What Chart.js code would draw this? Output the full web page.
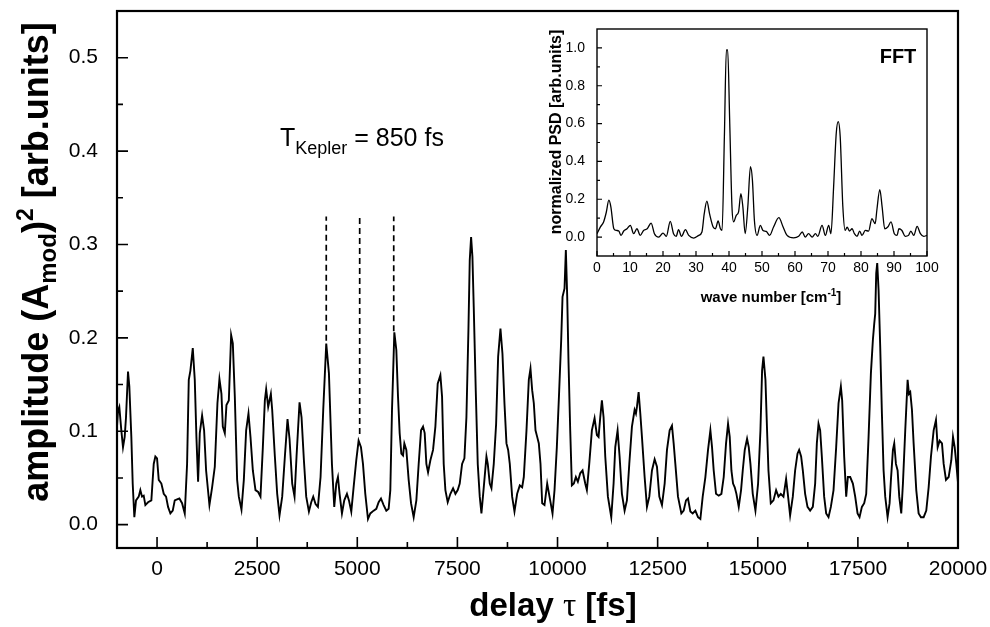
<!DOCTYPE html>
<html><head><meta charset="utf-8">
<script src="https://cdn.jsdelivr.net/npm/chart.js@4.4.1/dist/chart.umd.min.js"></script>
<style>
html,body{margin:0;padding:0;background:#fff;}
#wrap{position:relative;width:990px;height:627px;overflow:hidden;}
#main{position:absolute;left:0;top:0;}
#inset{position:absolute;left:530px;top:20px;}
</style></head><body>
<div id="wrap"><canvas id="main" width="990" height="627"></canvas><canvas id="inset" width="430" height="290"></canvas></div>
<script>
// ---- main trace: delay (fs) and squared amplitude (arb. units) ----
const delayFs = [
-1000,-975,-942,-892,-850,-808,-775,-725,-692,-642,
-608,-567,-525,-458,-417,-375,-333,-292,-225,-142,
-83,-42,0,42,108,167,225,275,333,392,
442,500,558,625,692,750,792,833,892,942,
983,1025,1067,1125,1175,1225,1308,1375,1442,1508,
1558,1608,1642,1692,1733,1792,1850,1892,1942,2000,
2042,2108,2167,2225,2283,2333,2392,2458,2525,2583,
2642,2692,2725,2775,2808,2842,2875,2942,3000,3058,
3125,3192,3258,3308,3375,3433,3483,3558,3608,3667,
3725,3792,3850,3900,3958,4017,4083,4150,4225,4292,
4367,4425,4475,4517,4558,4617,4675,4742,4792,4850,
4908,4975,5033,5092,5142,5200,5267,5325,5408,5475,
5533,5592,5658,5725,5783,5825,5867,5892,5925,5975,
6017,6058,6100,6142,6175,6225,6283,6342,6408,6475,
6533,6592,6642,6683,6725,6767,6825,6892,6950,7008,
7075,7117,7158,7200,7258,7325,7392,7450,7508,7558,
7617,7675,7725,7775,7808,7842,7875,7908,7958,8008,
8058,8100,8158,8225,8258,8308,8350,8408,8467,8517,
8575,8625,8675,8725,8767,8808,8867,8925,8992,9058,
9117,9158,9225,9283,9325,9367,9408,9450,9492,9533,
9575,9617,9675,9742,9817,9875,9925,9983,10042,10092,
10125,10175,10208,10242,10275,10317,10358,10408,10458,10508,
10567,10625,10692,10733,10792,10858,10925,10983,11025,11067,
11108,11150,11192,11258,11342,11400,11442,11500,11550,11608,
11675,11733,11792,11858,11925,11958,11983,12025,12067,12108,
12175,12233,12292,12358,12425,12483,12542,12608,12675,12733,
12800,12858,12900,12942,13008,13092,13150,13208,13258,13317,
13375,13442,13508,13567,13625,13692,13758,13817,13858,13900,
13958,14025,14092,14150,14208,14258,14300,14342,14383,14425,
14467,14525,14583,14625,14675,14733,14775,14817,14875,14942,
15008,15067,15108,15142,15192,15233,15267,15325,15392,15458,
15517,15575,15642,15708,15750,15808,15875,15933,15992,16033,
16083,16125,16183,16242,16308,16375,16433,16475,16517,16558,
16600,16658,16708,16767,16825,16892,16958,17017,17075,17108,
17158,17208,17250,17308,17375,17433,17492,17542,17600,17658,
17708,17767,17825,17875,17908,17933,17958,17983,18017,18058,
18100,18142,18183,18242,18292,18325,18375,18408,18450,18492,
18533,18583,18625,18683,18742,18775,18808,18850,18892,18958,
19017,19075,19142,19208,19267,19325,19392,19450,19492,19542,
19600,19642,19700,19767,19833,19875,19917,19958,20000];
const amplitude = [
0.105,0.122,0.126,0.101,0.083,0.094,0.115,0.164,0.148,0.094,
0.044,0.008,0.026,0.030,0.037,0.030,0.031,0.021,0.024,0.026,
0.065,0.073,0.071,0.048,0.044,0.033,0.030,0.019,0.012,0.015,
0.026,0.027,0.028,0.023,0.012,0.065,0.155,0.165,0.189,0.155,
0.094,0.046,0.098,0.117,0.101,0.058,0.021,0.040,0.062,0.130,
0.156,0.140,0.105,0.098,0.128,0.133,0.203,0.194,0.137,0.048,
0.030,0.016,0.048,0.101,0.119,0.094,0.058,0.037,0.035,0.030,
0.083,0.133,0.145,0.126,0.133,0.140,0.123,0.073,0.033,0.010,
0.030,0.073,0.113,0.092,0.044,0.030,0.073,0.131,0.115,0.069,
0.030,0.014,0.024,0.030,0.022,0.019,0.051,0.123,0.194,0.162,
0.065,0.019,0.044,0.051,0.033,0.012,0.026,0.033,0.026,0.014,
0.040,0.069,0.090,0.083,0.065,0.033,0.006,0.012,0.015,0.017,
0.024,0.028,0.021,0.015,0.017,0.037,0.123,0.158,0.206,0.187,
0.137,0.098,0.076,0.074,0.087,0.080,0.048,0.023,0.008,0.026,
0.065,0.101,0.105,0.098,0.065,0.056,0.069,0.080,0.105,0.151,
0.160,0.137,0.065,0.037,0.024,0.033,0.039,0.033,0.037,0.044,
0.065,0.071,0.115,0.208,0.283,0.308,0.287,0.233,0.144,0.065,
0.030,0.012,0.040,0.073,0.065,0.044,0.039,0.065,0.108,0.180,
0.210,0.183,0.130,0.087,0.080,0.065,0.030,0.014,0.033,0.042,
0.040,0.051,0.101,0.155,0.167,0.144,0.130,0.101,0.094,0.087,
0.065,0.023,0.021,0.044,0.026,0.012,0.037,0.083,0.144,0.198,
0.244,0.253,0.294,0.244,0.173,0.101,0.042,0.044,0.051,0.046,
0.055,0.058,0.044,0.037,0.065,0.101,0.114,0.096,0.094,0.115,
0.133,0.115,0.073,0.030,0.008,0.044,0.083,0.101,0.073,0.033,
0.015,0.026,0.065,0.105,0.123,0.119,0.126,0.142,0.119,0.094,
0.051,0.019,0.030,0.058,0.070,0.062,0.030,0.021,0.044,0.080,
0.101,0.106,0.087,0.065,0.030,0.012,0.015,0.026,0.028,0.014,
0.012,0.015,0.008,0.006,0.030,0.051,0.080,0.101,0.083,0.058,
0.033,0.031,0.033,0.051,0.087,0.108,0.094,0.058,0.044,0.040,
0.033,0.019,0.037,0.058,0.080,0.092,0.083,0.065,0.033,0.015,
0.044,0.101,0.165,0.180,0.155,0.100,0.058,0.023,0.026,0.037,
0.030,0.033,0.030,0.049,0.033,0.010,0.030,0.058,0.076,0.080,
0.073,0.058,0.033,0.019,0.015,0.019,0.044,0.087,0.108,0.101,
0.073,0.030,0.012,0.008,0.019,0.037,0.083,0.130,0.148,0.133,
0.073,0.030,0.051,0.051,0.044,0.030,0.012,0.008,0.019,0.023,
0.033,0.094,0.162,0.198,0.215,0.226,0.269,0.280,0.251,0.190,
0.119,0.058,0.030,0.008,0.023,0.048,0.080,0.087,0.065,0.058,
0.030,0.012,0.044,0.101,0.155,0.140,0.142,0.123,0.087,0.037,
0.012,0.008,0.008,0.015,0.040,0.073,0.101,0.112,0.083,0.090,
0.087,0.065,0.048,0.051,0.069,0.094,0.083,0.065,0.045];

// Kepler period markers (dashed lines)
const keplerMarksFs = [4225, 5060, 5910];
const keplerMarkTop = 0.33;
const keplerMarkBottom = [0.197, 0.097, 0.207];

// main axis ticks
const xTickValues = [0, 2500, 5000, 7500, 10000, 12500, 15000, 17500, 20000];
const yTickValues = [0.0, 0.1, 0.2, 0.3, 0.4, 0.5];

// ---- inset: FFT spectrum ----
const waveNumber = [
0,1.0,2.0,2.8,3.6,4.2,5.1,5.9,6.6,7.3,
8.1,9.1,10.1,11.1,12.1,13.1,14.1,15.2,16.4,17.4,
18.7,20.0,21.0,22.2,23.2,24.0,24.7,25.6,26.8,27.8,
29.3,30.8,31.8,32.5,33.3,34.1,35.2,35.9,36.7,37.4,
37.9,38.6,39.2,39.6,40.2,40.9,41.4,42.2,42.9,43.6,
44.2,44.9,45.7,46.5,47.1,47.7,48.5,49.5,50.3,51.3,
52.3,53.5,55.1,56.4,57.6,59.6,61.1,62.2,63.1,64.1,
65.2,66.2,66.9,68.2,69.2,70.2,70.9,71.7,72.5,73.1,
73.7,74.5,75.2,75.8,76.5,77.3,78.0,78.8,79.6,80.3,
81.3,82.3,83.3,84.3,84.8,85.7,86.4,87.2,88.1,89.1,
90.1,90.9,91.5,92.4,93.4,94.4,95.1,96.0,97.0,98.0,
99.0,100];
const psd = [
0.018,0.053,0.08,0.13,0.195,0.16,0.044,0.035,0.032,0.009,
0.032,0.044,0.062,0.018,0.044,0.009,0.035,0.044,0.074,0.018,
0.0,0.021,0.004,0.083,0.018,0.004,0.039,0.004,0.039,0.009,
-0.005,0.009,0.027,0.124,0.19,0.124,0.053,0.044,0.085,0.044,
0.035,0.53,0.99,0.99,0.62,0.16,0.08,0.115,0.133,0.23,
0.16,0.018,0.16,0.372,0.30,0.088,0.009,0.062,0.035,0.03,
0.009,0.053,0.103,0.053,0.009,-0.004,0.004,0.027,0.0,0.018,
0.0,0.018,0.004,0.062,0.009,0.062,0.018,0.265,0.549,0.61,
0.53,0.16,0.035,0.053,0.032,0.044,0.018,0.004,0.032,0.009,
0.035,0.032,0.097,0.071,0.142,0.251,0.16,0.044,0.053,0.08,
0.018,0.009,0.044,0.035,0.004,0.009,0.032,0.009,0.057,0.018,
0.004,0.009];
const insetXTickValues = [0,10,20,30,40,50,60,70,80,90,100];
const insetYTickValues = [0.0,0.2,0.4,0.6,0.8,1.0];

const FONT = '"Liberation Sans", Arial, Helvetica, sans-serif';

function drawRuns(ctx, runs, x, y, align) {
  let total = 0;
  runs.forEach(r => { ctx.font = r.f; r.w = ctx.measureText(r.t).width; total += r.w; });
  let cx = align === 'center' ? x - total / 2 : x;
  ctx.textAlign = 'left'; ctx.textBaseline = 'alphabetic';
  runs.forEach(r => { ctx.font = r.f; ctx.fillText(r.t, cx, y + (r.dy || 0)); cx += r.w; });
}

const mainDecor = {
  id: 'mainDecor',
  afterDatasetsDraw(chart) {
    const {ctx, chartArea: a, scales: {x, y}} = chart;
    ctx.save();
    ctx.strokeStyle = '#000'; ctx.fillStyle = '#000';
    ctx.lineWidth = 2.2;
    ctx.strokeRect(a.left, a.top, a.right - a.left, a.bottom - a.top);
    ctx.lineWidth = 1.6;
    ctx.beginPath();
    xTickValues.forEach(v => {
      const p = x.getPixelForValue(v);
      ctx.moveTo(p, a.bottom); ctx.lineTo(p, a.bottom - 11);
      const m = v + 1250;
      if (m < x.max) { const q = x.getPixelForValue(m); ctx.moveTo(q, a.bottom); ctx.lineTo(q, a.bottom - 6); }
    });
    yTickValues.forEach(v => {
      const p = y.getPixelForValue(v);
      ctx.moveTo(a.left, p); ctx.lineTo(a.left + 11, p);
      const m = v + 0.05;
      if (m < y.max) { const q = y.getPixelForValue(m); ctx.moveTo(a.left, q); ctx.lineTo(a.left + 6, q); }
    });
    ctx.stroke();

    // axis titles
    ctx.save();
    ctx.translate(37, 262);
    ctx.rotate(-Math.PI / 2);
    drawRuns(ctx, [
      {t: 'amplitude (A', f: 'bold 36px ' + FONT},
      {t: 'mod', f: 'bold 24px ' + FONT, dy: 8},
      {t: ')', f: 'bold 36px ' + FONT},
      {t: '2', f: 'bold 23px ' + FONT, dy: -15},
      {t: ' [arb.units]', f: 'bold 36px ' + FONT}
    ], 0, 11, 'center');
    ctx.restore();

    drawRuns(ctx, [
      {t: 'delay ', f: 'bold 33px ' + FONT},
      {t: 'τ', f: '33px "Liberation Serif", serif'},
      {t: ' [fs]', f: 'bold 33px ' + FONT}
    ], 553, 616, 'center');

    drawRuns(ctx, [
      {t: 'T', f: '25px ' + FONT},
      {t: 'Kepler', f: '18px ' + FONT, dy: 8},
      {t: ' = 850 fs', f: '25px ' + FONT}
    ], 280, 146, 'left');
    ctx.restore();
  }
};

new Chart(document.getElementById('main'), {
  type: 'line',
  data: {
    datasets: [
      {
        data: delayFs.map((t, i) => ({x: t, y: amplitude[i]})),
        borderColor: '#000', borderWidth: 1.9, pointRadius: 0,
        tension: 0, fill: false
      },
      ...keplerMarksFs.map((t, i) => ({
        data: [{x: t, y: keplerMarkBottom[i]}, {x: t, y: keplerMarkTop}],
        borderColor: '#000', borderWidth: 1.7, borderDash: [6, 4], pointRadius: 0, fill: false
      }))
    ]
  },
  options: {
    responsive: false, animation: false, devicePixelRatio: 1,
    layout: {padding: {top: 11, right: 32, left: 0, bottom: 0}},
    plugins: {legend: {display: false}, tooltip: {enabled: false}},
    scales: {
      x: {
        type: 'linear', min: -1000, max: 20000,
        grid: {display: false, drawTicks: false}, border: {display: false},
        afterBuildTicks: s => { s.ticks = xTickValues.map(v => ({value: v})); },
        afterFit: s => { s.height = 79; s.paddingLeft = 0; s.paddingRight = 0; s.paddingTop = 0; s.paddingBottom = 0; },
        ticks: {font: {family: FONT, size: 21}, color: '#000', padding: 9, maxRotation: 0, autoSkip: false,
                callback: v => String(v)}
      },
      y: {
        type: 'linear', min: -0.025, max: 0.55,
        grid: {display: false, drawTicks: false}, border: {display: false},
        afterBuildTicks: s => { s.ticks = yTickValues.map(v => ({value: v})); },
        afterFit: s => { s.width = 117; s.paddingLeft = 0; s.paddingRight = 0; s.paddingTop = 0; s.paddingBottom = 0; },
        ticks: {font: {family: FONT, size: 21}, color: '#000', padding: 19, autoSkip: false,
                callback: v => Number(v).toFixed(1)}
      }
    }
  },
  plugins: [mainDecor]
});

const insetDecor = {
  id: 'insetDecor',
  afterDatasetsDraw(chart) {
    const {ctx, chartArea: a, scales: {x, y}} = chart;
    ctx.save();
    ctx.strokeStyle = '#000'; ctx.fillStyle = '#000';
    ctx.lineWidth = 1.4;
    ctx.strokeRect(a.left, a.top, a.right - a.left, a.bottom - a.top);
    ctx.lineWidth = 1.2;
    ctx.beginPath();
    insetXTickValues.forEach(v => {
      const p = x.getPixelForValue(v);
      ctx.moveTo(p, a.bottom); ctx.lineTo(p, a.bottom - 5);
      const m = v + 5;
      if (m < x.max) { const q = x.getPixelForValue(m); ctx.moveTo(q, a.bottom); ctx.lineTo(q, a.bottom - 3); }
    });
    insetYTickValues.forEach(v => {
      const p = y.getPixelForValue(v);
      ctx.moveTo(a.left, p); ctx.lineTo(a.left + 5, p);
      const m = v + 0.1;
      if (m < y.max) { const q = y.getPixelForValue(m); ctx.moveTo(a.left, q); ctx.lineTo(a.left + 3, q); }
    });
    ctx.stroke();

    drawRuns(ctx, [{t: 'FFT', f: 'bold 20px ' + FONT}], 368, 43, 'center');
    drawRuns(ctx, [
      {t: 'wave number [cm', f: 'bold 15px ' + FONT},
      {t: '-1', f: 'bold 10px ' + FONT, dy: -6},
      {t: ']', f: 'bold 15px ' + FONT}
    ], 241, 282, 'center');
    ctx.save();
    ctx.translate(26, 112);
    ctx.rotate(-Math.PI / 2);
    drawRuns(ctx, [{t: 'normalized PSD [arb.units]', f: 'bold 16px ' + FONT}], 0, 5, 'center');
    ctx.restore();
    ctx.restore();
  }
};

new Chart(document.getElementById('inset'), {
  type: 'line',
  data: {
    datasets: [{
      data: waveNumber.map((w, i) => ({x: w, y: psd[i]})),
      borderColor: '#000', borderWidth: 1.3, pointRadius: 0,
      cubicInterpolationMode: 'monotone', fill: false
    }]
  },
  options: {
    responsive: false, animation: false, devicePixelRatio: 1,
    layout: {padding: {top: 9, right: 33, left: 0, bottom: 0}},
    plugins: {legend: {display: false}, tooltip: {enabled: false}},
    scales: {
      x: {
        type: 'linear', min: 0, max: 100,
        grid: {display: false, drawTicks: false}, border: {display: false},
        afterBuildTicks: s => { s.ticks = insetXTickValues.map(v => ({value: v})); },
        afterFit: s => { s.height = 54; s.paddingLeft = 0; s.paddingRight = 0; s.paddingTop = 0; s.paddingBottom = 0; },
        ticks: {font: {family: FONT, size: 14}, color: '#000', padding: 4, maxRotation: 0, autoSkip: false,
                callback: v => String(v)}
      },
      y: {
        type: 'linear', min: -0.1, max: 1.1,
        grid: {display: false, drawTicks: false}, border: {display: false},
        afterBuildTicks: s => { s.ticks = insetYTickValues.map(v => ({value: v})); },
        afterFit: s => { s.width = 67; s.paddingLeft = 0; s.paddingRight = 0; s.paddingTop = 0; s.paddingBottom = 0; },
        ticks: {font: {family: FONT, size: 14}, color: '#000', padding: 12, autoSkip: false,
                callback: v => Number(v).toFixed(1)}
      }
    }
  },
  plugins: [insetDecor]
});
</script>
</body></html>
